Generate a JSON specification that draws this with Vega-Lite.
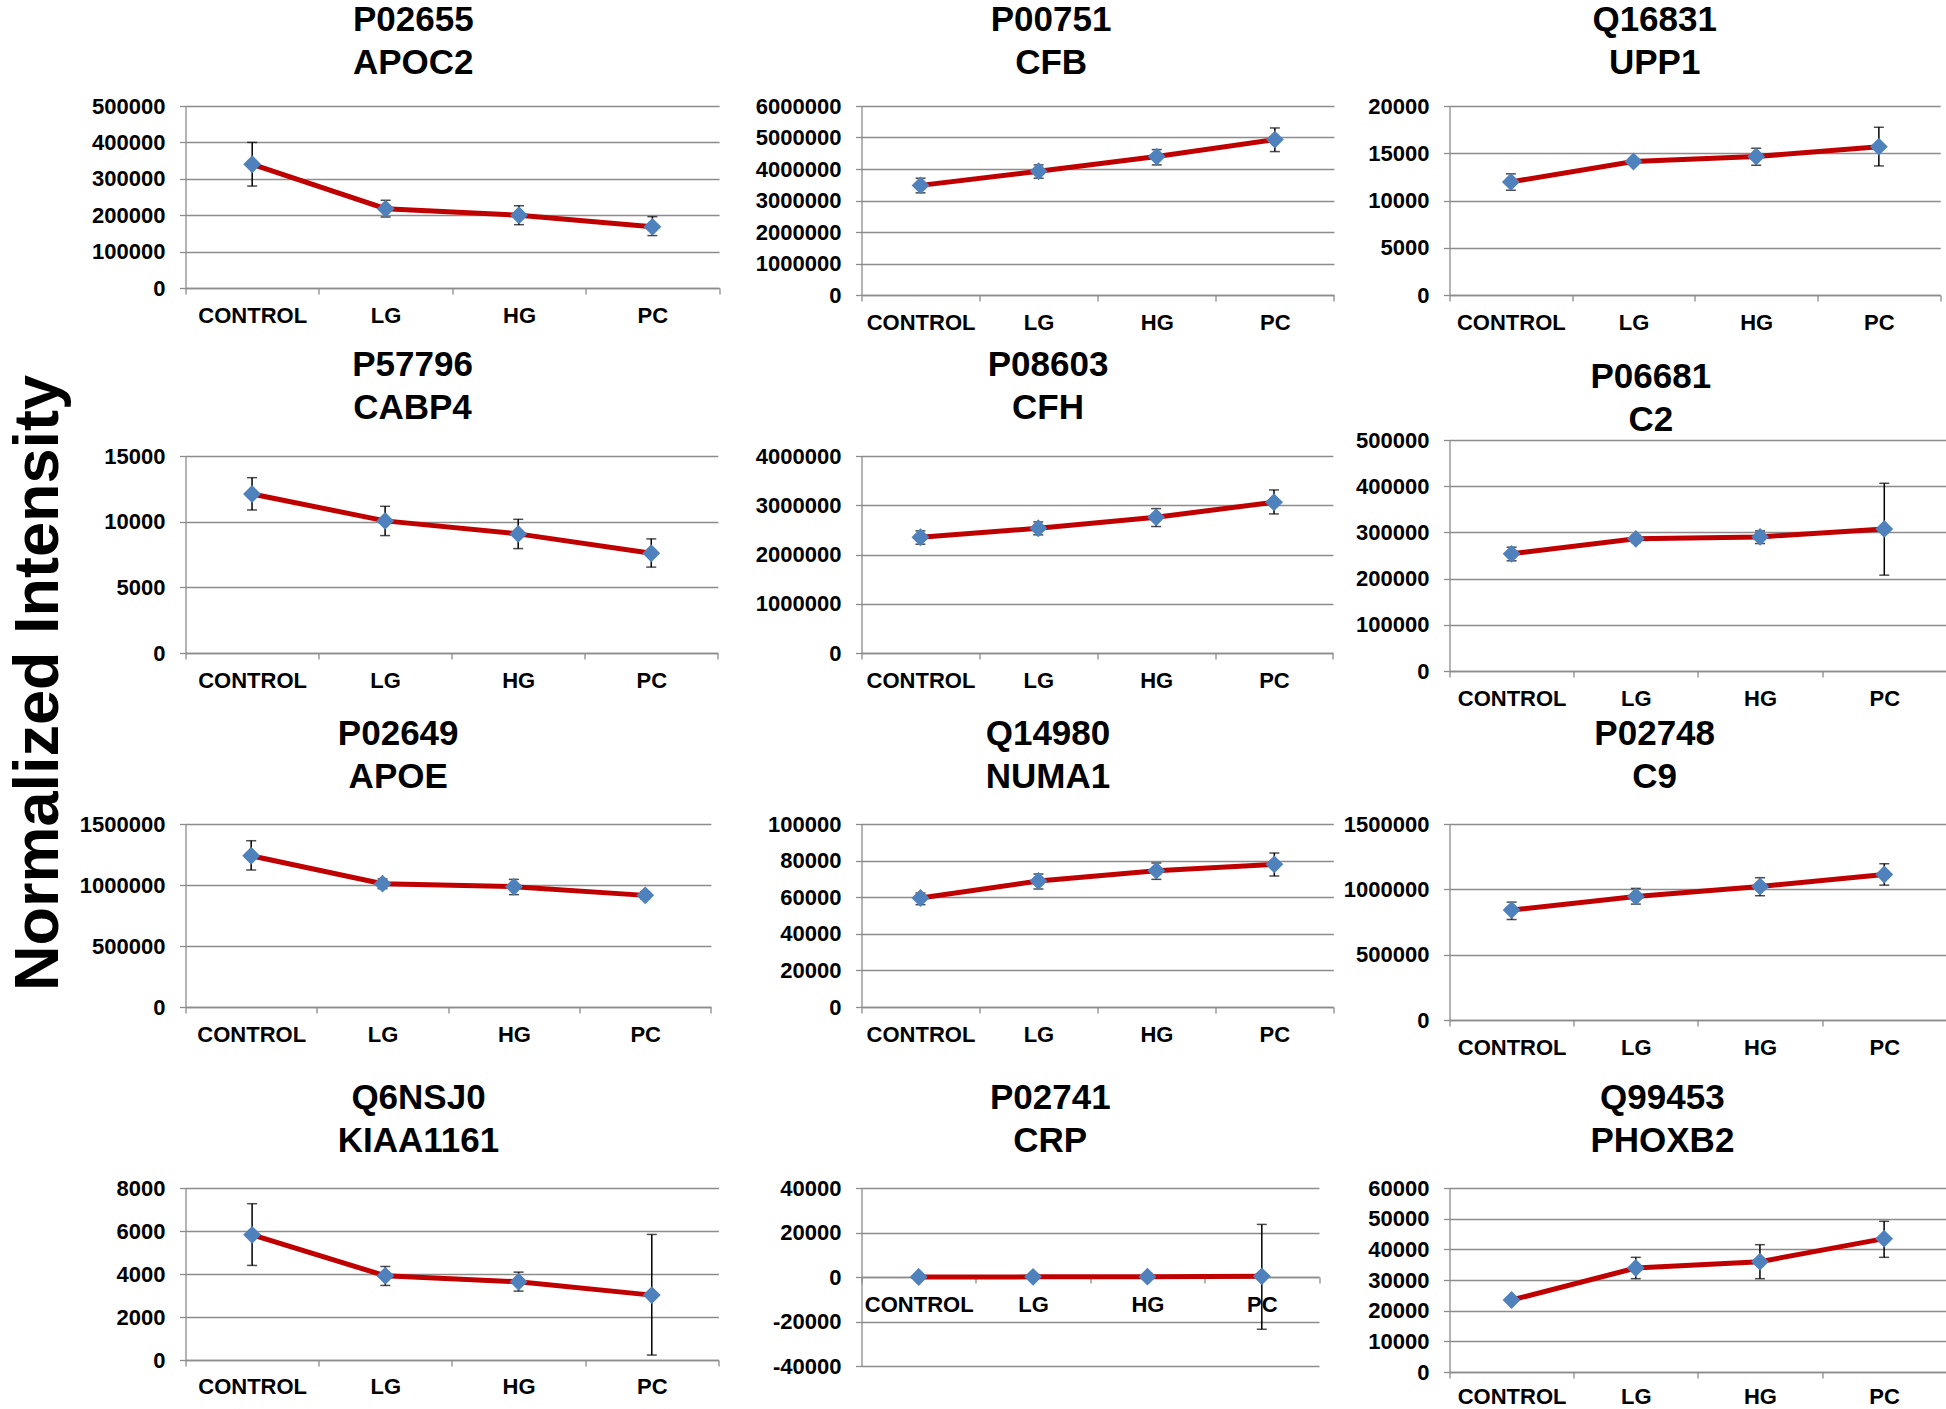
{
  "$schema": "https://vega.github.io/schema/vega-lite/v6.json",
  "padding": {"left": 7.5, "top": 3, "right": 0, "bottom": 0},
  "background": "white",
  "title": {"text": "Normalized Intensity", "orient": "left", "anchor": "middle", "frame": "bounds", "fontSize": 63, "fontWeight": "bold", "font": "Liberation Sans", "color": "#000000", "offset": 3.5, "dx": 22},
  "datasets": {
    "d": [
      {"protein": "APOC2", "group": "CONTROL", "i": 0, "mean": 340000, "lo": 280000, "hi": 400000},
      {"protein": "APOC2", "group": "LG", "i": 1, "mean": 218000, "lo": 195000, "hi": 241000},
      {"protein": "APOC2", "group": "HG", "i": 2, "mean": 200000, "lo": 174000, "hi": 226000},
      {"protein": "APOC2", "group": "PC", "i": 3, "mean": 168000, "lo": 144000, "hi": 196000},
      {"protein": "CFB", "group": "CONTROL", "i": 0, "mean": 3480000, "lo": 3243000, "hi": 3708000},
      {"protein": "CFB", "group": "LG", "i": 1, "mean": 3930000, "lo": 3708000, "hi": 4130000},
      {"protein": "CFB", "group": "HG", "i": 2, "mean": 4394000, "lo": 4130000, "hi": 4616000},
      {"protein": "CFB", "group": "PC", "i": 3, "mean": 4933000, "lo": 4553000, "hi": 5303000},
      {"protein": "UPP1", "group": "CONTROL", "i": 0, "mean": 11970, "lo": 11090, "hi": 12820},
      {"protein": "UPP1", "group": "LG", "i": 1, "mean": 14120, "lo": 13800, "hi": 14450},
      {"protein": "UPP1", "group": "HG", "i": 2, "mean": 14650, "lo": 13730, "hi": 15530},
      {"protein": "UPP1", "group": "PC", "i": 3, "mean": 15700, "lo": 13660, "hi": 17750},
      {"protein": "CABP4", "group": "CONTROL", "i": 0, "mean": 12110, "lo": 10890, "hi": 13350},
      {"protein": "CABP4", "group": "LG", "i": 1, "mean": 10060, "lo": 8940, "hi": 11170},
      {"protein": "CABP4", "group": "HG", "i": 2, "mean": 9070, "lo": 7950, "hi": 10180},
      {"protein": "CABP4", "group": "PC", "i": 3, "mean": 7600, "lo": 6540, "hi": 8690},
      {"protein": "CFH", "group": "CONTROL", "i": 0, "mean": 2351000, "lo": 2209000, "hi": 2480000},
      {"protein": "CFH", "group": "LG", "i": 1, "mean": 2534000, "lo": 2399000, "hi": 2662000},
      {"protein": "CFH", "group": "HG", "i": 2, "mean": 2757000, "lo": 2568000, "hi": 2932000},
      {"protein": "CFH", "group": "PC", "i": 3, "mean": 3061000, "lo": 2824000, "hi": 3311000},
      {"protein": "C2", "group": "CONTROL", "i": 0, "mean": 253600, "lo": 238500, "hi": 268000},
      {"protein": "C2", "group": "LG", "i": 1, "mean": 286000, "lo": 278000, "hi": 294000},
      {"protein": "C2", "group": "HG", "i": 2, "mean": 290300, "lo": 275900, "hi": 303300},
      {"protein": "C2", "group": "PC", "i": 3, "mean": 307600, "lo": 207500, "hi": 406300},
      {"protein": "APOE", "group": "CONTROL", "i": 0, "mean": 1240000, "lo": 1123000, "hi": 1363000},
      {"protein": "APOE", "group": "LG", "i": 1, "mean": 1011000, "lo": 970000, "hi": 1050000},
      {"protein": "APOE", "group": "HG", "i": 2, "mean": 986000, "lo": 921000, "hi": 1046000},
      {"protein": "APOE", "group": "PC", "i": 3, "mean": 915000, "lo": 885000, "hi": 945000},
      {"protein": "NUMA1", "group": "CONTROL", "i": 0, "mean": 59560, "lo": 55920, "hi": 62300},
      {"protein": "NUMA1", "group": "LG", "i": 1, "mean": 68850, "lo": 64480, "hi": 72680},
      {"protein": "NUMA1", "group": "HG", "i": 2, "mean": 74500, "lo": 69760, "hi": 78690},
      {"protein": "NUMA1", "group": "PC", "i": 3, "mean": 77960, "lo": 71580, "hi": 84150},
      {"protein": "C9", "group": "CONTROL", "i": 0, "mean": 841000, "lo": 769000, "hi": 902000},
      {"protein": "C9", "group": "LG", "i": 1, "mean": 945600, "lo": 887000, "hi": 1007000},
      {"protein": "C9", "group": "HG", "i": 2, "mean": 1022000, "lo": 951000, "hi": 1089000},
      {"protein": "C9", "group": "PC", "i": 3, "mean": 1114000, "lo": 1032000, "hi": 1196000},
      {"protein": "KIAA1161", "group": "CONTROL", "i": 0, "mean": 5820, "lo": 4400, "hi": 7270},
      {"protein": "KIAA1161", "group": "LG", "i": 1, "mean": 3916, "lo": 3467, "hi": 4350},
      {"protein": "KIAA1161", "group": "HG", "i": 2, "mean": 3638, "lo": 3204, "hi": 4087},
      {"protein": "KIAA1161", "group": "PC", "i": 3, "mean": 3018, "lo": 230, "hi": 5840},
      {"protein": "CRP", "group": "CONTROL", "i": 0, "mean": 30, "lo": 0, "hi": 60},
      {"protein": "CRP", "group": "LG", "i": 1, "mean": 60, "lo": 30, "hi": 90},
      {"protein": "CRP", "group": "HG", "i": 2, "mean": 150, "lo": 120, "hi": 180},
      {"protein": "CRP", "group": "PC", "i": 3, "mean": 300, "lo": -23490, "hi": 23640},
      {"protein": "PHOXB2", "group": "CONTROL", "i": 0, "mean": 23480, "lo": 22700, "hi": 24300},
      {"protein": "PHOXB2", "group": "LG", "i": 1, "mean": 33910, "lo": 30430, "hi": 37390},
      {"protein": "PHOXB2", "group": "HG", "i": 2, "mean": 35980, "lo": 30430, "hi": 41520},
      {"protein": "PHOXB2", "group": "PC", "i": 3, "mean": 43480, "lo": 37390, "hi": 49130}
    ]
  },
  "spacing": 0,
  "hconcat": [
    {
      "spacing": 0,
      "vconcat": [
        {
          "title": {"text": ["P02655", "APOC2"], "offset": 14, "dx": -39},
          "width": 533.6, "height": 182,
          "data": {"name": "d"},
          "transform": [{"filter": "datum.protein === 'APOC2'"}],
          "encoding": {"x": {"field": "group", "type": "nominal", "bandPosition": 0.5, "scale": {"type": "band", "domain": ["CONTROL", "LG", "HG", "PC"], "paddingInner": 0, "paddingOuter": 0}, "axis": {"title": null, "minExtent": 59.15}}},
          "layer": [
            {"mark": {"type": "line", "color": "#C00000", "strokeWidth": 5}, "encoding": {"y": {"field": "mean", "type": "quantitative", "scale": {"domain": [0, 500000], "nice": false, "zero": false}, "axis": {"title": null, "values": [0, 100000, 200000, 300000, 400000, 500000], "minExtent": 111, "maxExtent": 111}}, "order": {"field": "i"}}},
            {"mark": {"type": "rule", "color": "#000000", "strokeWidth": 1.5}, "encoding": {"y": {"field": "lo", "type": "quantitative", "scale": {"domain": [0, 500000], "nice": false, "zero": false}, "axis": {"title": null, "values": [0, 100000, 200000, 300000, 400000, 500000], "minExtent": 111, "maxExtent": 111}}, "y2": {"field": "hi"}}},
            {"mark": {"type": "tick", "color": "#000000", "size": 10, "thickness": 1.5}, "encoding": {"y": {"field": "lo", "type": "quantitative", "scale": {"domain": [0, 500000], "nice": false, "zero": false}, "axis": {"title": null, "values": [0, 100000, 200000, 300000, 400000, 500000], "minExtent": 111, "maxExtent": 111}}}},
            {"mark": {"type": "tick", "color": "#000000", "size": 10, "thickness": 1.5}, "encoding": {"y": {"field": "hi", "type": "quantitative", "scale": {"domain": [0, 500000], "nice": false, "zero": false}, "axis": {"title": null, "values": [0, 100000, 200000, 300000, 400000, 500000], "minExtent": 111, "maxExtent": 111}}}},
            {"mark": {"type": "point", "shape": "diamond", "filled": true, "size": 320, "color": "#4F81BD", "opacity": 1}, "encoding": {"y": {"field": "mean", "type": "quantitative", "scale": {"domain": [0, 500000], "nice": false, "zero": false}, "axis": {"title": null, "values": [0, 100000, 200000, 300000, 400000, 500000], "minExtent": 111, "maxExtent": 111}}}}
          ]
        },
        {
          "title": {"text": ["P57796", "CABP4"], "offset": 18.85, "dx": -39.15},
          "width": 532.3, "height": 197,
          "data": {"name": "d"},
          "transform": [{"filter": "datum.protein === 'CABP4'"}],
          "encoding": {"x": {"field": "group", "type": "nominal", "bandPosition": 0.5, "scale": {"type": "band", "domain": ["CONTROL", "LG", "HG", "PC"], "paddingInner": 0, "paddingOuter": 0}, "axis": {"title": null, "minExtent": 62.35}}},
          "layer": [
            {"mark": {"type": "line", "color": "#C00000", "strokeWidth": 5}, "encoding": {"y": {"field": "mean", "type": "quantitative", "scale": {"domain": [0, 15000], "nice": false, "zero": false}, "axis": {"title": null, "values": [0, 5000, 10000, 15000], "minExtent": 111, "maxExtent": 111}}, "order": {"field": "i"}}},
            {"mark": {"type": "rule", "color": "#000000", "strokeWidth": 1.5}, "encoding": {"y": {"field": "lo", "type": "quantitative", "scale": {"domain": [0, 15000], "nice": false, "zero": false}, "axis": {"title": null, "values": [0, 5000, 10000, 15000], "minExtent": 111, "maxExtent": 111}}, "y2": {"field": "hi"}}},
            {"mark": {"type": "tick", "color": "#000000", "size": 10, "thickness": 1.5}, "encoding": {"y": {"field": "lo", "type": "quantitative", "scale": {"domain": [0, 15000], "nice": false, "zero": false}, "axis": {"title": null, "values": [0, 5000, 10000, 15000], "minExtent": 111, "maxExtent": 111}}}},
            {"mark": {"type": "tick", "color": "#000000", "size": 10, "thickness": 1.5}, "encoding": {"y": {"field": "hi", "type": "quantitative", "scale": {"domain": [0, 15000], "nice": false, "zero": false}, "axis": {"title": null, "values": [0, 5000, 10000, 15000], "minExtent": 111, "maxExtent": 111}}}},
            {"mark": {"type": "point", "shape": "diamond", "filled": true, "size": 320, "color": "#4F81BD", "opacity": 1}, "encoding": {"y": {"field": "mean", "type": "quantitative", "scale": {"domain": [0, 15000], "nice": false, "zero": false}, "axis": {"title": null, "values": [0, 5000, 10000, 15000], "minExtent": 111, "maxExtent": 111}}}}
          ]
        },
        {
          "title": {"text": ["P02649", "APOE"], "offset": 18.45, "dx": -50},
          "width": 525.4, "height": 183,
          "data": {"name": "d"},
          "transform": [{"filter": "datum.protein === 'APOE'"}],
          "encoding": {"x": {"field": "group", "type": "nominal", "bandPosition": 0.5, "scale": {"type": "band", "domain": ["CONTROL", "LG", "HG", "PC"], "paddingInner": 0, "paddingOuter": 0}, "axis": {"title": null, "minExtent": 72.25}}},
          "layer": [
            {"mark": {"type": "line", "color": "#C00000", "strokeWidth": 5}, "encoding": {"y": {"field": "mean", "type": "quantitative", "scale": {"domain": [0, 1500000], "nice": false, "zero": false}, "axis": {"title": null, "values": [0, 500000, 1000000, 1500000], "minExtent": 111, "maxExtent": 111}}, "order": {"field": "i"}}},
            {"mark": {"type": "rule", "color": "#000000", "strokeWidth": 1.5}, "encoding": {"y": {"field": "lo", "type": "quantitative", "scale": {"domain": [0, 1500000], "nice": false, "zero": false}, "axis": {"title": null, "values": [0, 500000, 1000000, 1500000], "minExtent": 111, "maxExtent": 111}}, "y2": {"field": "hi"}}},
            {"mark": {"type": "tick", "color": "#000000", "size": 10, "thickness": 1.5}, "encoding": {"y": {"field": "lo", "type": "quantitative", "scale": {"domain": [0, 1500000], "nice": false, "zero": false}, "axis": {"title": null, "values": [0, 500000, 1000000, 1500000], "minExtent": 111, "maxExtent": 111}}}},
            {"mark": {"type": "tick", "color": "#000000", "size": 10, "thickness": 1.5}, "encoding": {"y": {"field": "hi", "type": "quantitative", "scale": {"domain": [0, 1500000], "nice": false, "zero": false}, "axis": {"title": null, "values": [0, 500000, 1000000, 1500000], "minExtent": 111, "maxExtent": 111}}}},
            {"mark": {"type": "point", "shape": "diamond", "filled": true, "size": 320, "color": "#4F81BD", "opacity": 1}, "encoding": {"y": {"field": "mean", "type": "quantitative", "scale": {"domain": [0, 1500000], "nice": false, "zero": false}, "axis": {"title": null, "values": [0, 500000, 1000000, 1500000], "minExtent": 111, "maxExtent": 111}}}}
          ]
        },
        {
          "title": {"text": ["Q6NSJ0", "KIAA1161"], "offset": 18.15, "dx": -33.45},
          "width": 532.9, "height": 172,
          "data": {"name": "d"},
          "transform": [{"filter": "datum.protein === 'KIAA1161'"}],
          "encoding": {"x": {"field": "group", "type": "nominal", "bandPosition": 0.5, "scale": {"type": "band", "domain": ["CONTROL", "LG", "HG", "PC"], "paddingInner": 0, "paddingOuter": 0}, "axis": {"title": null, "labelPadding": 10}}},
          "layer": [
            {"mark": {"type": "line", "color": "#C00000", "strokeWidth": 5}, "encoding": {"y": {"field": "mean", "type": "quantitative", "scale": {"domain": [0, 8000], "nice": false, "zero": false}, "axis": {"title": null, "values": [0, 2000, 4000, 6000, 8000], "minExtent": 111, "maxExtent": 111}}, "order": {"field": "i"}}},
            {"mark": {"type": "rule", "color": "#000000", "strokeWidth": 1.5}, "encoding": {"y": {"field": "lo", "type": "quantitative", "scale": {"domain": [0, 8000], "nice": false, "zero": false}, "axis": {"title": null, "values": [0, 2000, 4000, 6000, 8000], "minExtent": 111, "maxExtent": 111}}, "y2": {"field": "hi"}}},
            {"mark": {"type": "tick", "color": "#000000", "size": 10, "thickness": 1.5}, "encoding": {"y": {"field": "lo", "type": "quantitative", "scale": {"domain": [0, 8000], "nice": false, "zero": false}, "axis": {"title": null, "values": [0, 2000, 4000, 6000, 8000], "minExtent": 111, "maxExtent": 111}}}},
            {"mark": {"type": "tick", "color": "#000000", "size": 10, "thickness": 1.5}, "encoding": {"y": {"field": "hi", "type": "quantitative", "scale": {"domain": [0, 8000], "nice": false, "zero": false}, "axis": {"title": null, "values": [0, 2000, 4000, 6000, 8000], "minExtent": 111, "maxExtent": 111}}}},
            {"mark": {"type": "point", "shape": "diamond", "filled": true, "size": 320, "color": "#4F81BD", "opacity": 1}, "encoding": {"y": {"field": "mean", "type": "quantitative", "scale": {"domain": [0, 8000], "nice": false, "zero": false}, "axis": {"title": null, "values": [0, 2000, 4000, 6000, 8000], "minExtent": 111, "maxExtent": 111}}}}
          ]
        }
      ]
    },
    {
      "spacing": 0,
      "vconcat": [
        {
          "title": {"text": ["P00751", "CFB"], "offset": 14, "dx": -46.6},
          "width": 472.4, "height": 189,
          "data": {"name": "d"},
          "transform": [{"filter": "datum.protein === 'CFB'"}],
          "encoding": {"x": {"field": "group", "type": "nominal", "bandPosition": 0.5, "scale": {"type": "band", "domain": ["CONTROL", "LG", "HG", "PC"], "paddingInner": 0, "paddingOuter": 0}, "axis": {"title": null, "minExtent": 52.15}}},
          "layer": [
            {"mark": {"type": "line", "color": "#C00000", "strokeWidth": 5}, "encoding": {"y": {"field": "mean", "type": "quantitative", "scale": {"domain": [0, 6000000], "nice": false, "zero": false}, "axis": {"title": null, "values": [0, 1000000, 2000000, 3000000, 4000000, 5000000, 6000000], "minExtent": 140.4, "maxExtent": 140.4}}, "order": {"field": "i"}}},
            {"mark": {"type": "rule", "color": "#000000", "strokeWidth": 1.5}, "encoding": {"y": {"field": "lo", "type": "quantitative", "scale": {"domain": [0, 6000000], "nice": false, "zero": false}, "axis": {"title": null, "values": [0, 1000000, 2000000, 3000000, 4000000, 5000000, 6000000], "minExtent": 140.4, "maxExtent": 140.4}}, "y2": {"field": "hi"}}},
            {"mark": {"type": "tick", "color": "#000000", "size": 10, "thickness": 1.5}, "encoding": {"y": {"field": "lo", "type": "quantitative", "scale": {"domain": [0, 6000000], "nice": false, "zero": false}, "axis": {"title": null, "values": [0, 1000000, 2000000, 3000000, 4000000, 5000000, 6000000], "minExtent": 140.4, "maxExtent": 140.4}}}},
            {"mark": {"type": "tick", "color": "#000000", "size": 10, "thickness": 1.5}, "encoding": {"y": {"field": "hi", "type": "quantitative", "scale": {"domain": [0, 6000000], "nice": false, "zero": false}, "axis": {"title": null, "values": [0, 1000000, 2000000, 3000000, 4000000, 5000000, 6000000], "minExtent": 140.4, "maxExtent": 140.4}}}},
            {"mark": {"type": "point", "shape": "diamond", "filled": true, "size": 320, "color": "#4F81BD", "opacity": 1}, "encoding": {"y": {"field": "mean", "type": "quantitative", "scale": {"domain": [0, 6000000], "nice": false, "zero": false}, "axis": {"title": null, "values": [0, 1000000, 2000000, 3000000, 4000000, 5000000, 6000000], "minExtent": 140.4, "maxExtent": 140.4}}}}
          ]
        },
        {
          "title": {"text": ["P08603", "CFH"], "offset": 18.85, "dx": -49.2},
          "width": 471.4, "height": 197,
          "data": {"name": "d"},
          "transform": [{"filter": "datum.protein === 'CFH'"}],
          "encoding": {"x": {"field": "group", "type": "nominal", "bandPosition": 0.5, "scale": {"type": "band", "domain": ["CONTROL", "LG", "HG", "PC"], "paddingInner": 0, "paddingOuter": 0}, "axis": {"title": null, "minExtent": 62.35}}},
          "layer": [
            {"mark": {"type": "line", "color": "#C00000", "strokeWidth": 5}, "encoding": {"y": {"field": "mean", "type": "quantitative", "scale": {"domain": [0, 4000000], "nice": false, "zero": false}, "axis": {"title": null, "values": [0, 1000000, 2000000, 3000000, 4000000], "minExtent": 140.4, "maxExtent": 140.4}}, "order": {"field": "i"}}},
            {"mark": {"type": "rule", "color": "#000000", "strokeWidth": 1.5}, "encoding": {"y": {"field": "lo", "type": "quantitative", "scale": {"domain": [0, 4000000], "nice": false, "zero": false}, "axis": {"title": null, "values": [0, 1000000, 2000000, 3000000, 4000000], "minExtent": 140.4, "maxExtent": 140.4}}, "y2": {"field": "hi"}}},
            {"mark": {"type": "tick", "color": "#000000", "size": 10, "thickness": 1.5}, "encoding": {"y": {"field": "lo", "type": "quantitative", "scale": {"domain": [0, 4000000], "nice": false, "zero": false}, "axis": {"title": null, "values": [0, 1000000, 2000000, 3000000, 4000000], "minExtent": 140.4, "maxExtent": 140.4}}}},
            {"mark": {"type": "tick", "color": "#000000", "size": 10, "thickness": 1.5}, "encoding": {"y": {"field": "hi", "type": "quantitative", "scale": {"domain": [0, 4000000], "nice": false, "zero": false}, "axis": {"title": null, "values": [0, 1000000, 2000000, 3000000, 4000000], "minExtent": 140.4, "maxExtent": 140.4}}}},
            {"mark": {"type": "point", "shape": "diamond", "filled": true, "size": 320, "color": "#4F81BD", "opacity": 1}, "encoding": {"y": {"field": "mean", "type": "quantitative", "scale": {"domain": [0, 4000000], "nice": false, "zero": false}, "axis": {"title": null, "values": [0, 1000000, 2000000, 3000000, 4000000], "minExtent": 140.4, "maxExtent": 140.4}}}}
          ]
        },
        {
          "title": {"text": ["Q14980", "NUMA1"], "offset": 18.45, "dx": -49.4},
          "width": 471.8, "height": 183,
          "data": {"name": "d"},
          "transform": [{"filter": "datum.protein === 'NUMA1'"}],
          "encoding": {"x": {"field": "group", "type": "nominal", "bandPosition": 0.5, "scale": {"type": "band", "domain": ["CONTROL", "LG", "HG", "PC"], "paddingInner": 0, "paddingOuter": 0}, "axis": {"title": null, "minExtent": 72.25}}},
          "layer": [
            {"mark": {"type": "line", "color": "#C00000", "strokeWidth": 5}, "encoding": {"y": {"field": "mean", "type": "quantitative", "scale": {"domain": [0, 100000], "nice": false, "zero": false}, "axis": {"title": null, "values": [0, 20000, 40000, 60000, 80000, 100000], "minExtent": 140.4, "maxExtent": 140.4}}, "order": {"field": "i"}}},
            {"mark": {"type": "rule", "color": "#000000", "strokeWidth": 1.5}, "encoding": {"y": {"field": "lo", "type": "quantitative", "scale": {"domain": [0, 100000], "nice": false, "zero": false}, "axis": {"title": null, "values": [0, 20000, 40000, 60000, 80000, 100000], "minExtent": 140.4, "maxExtent": 140.4}}, "y2": {"field": "hi"}}},
            {"mark": {"type": "tick", "color": "#000000", "size": 10, "thickness": 1.5}, "encoding": {"y": {"field": "lo", "type": "quantitative", "scale": {"domain": [0, 100000], "nice": false, "zero": false}, "axis": {"title": null, "values": [0, 20000, 40000, 60000, 80000, 100000], "minExtent": 140.4, "maxExtent": 140.4}}}},
            {"mark": {"type": "tick", "color": "#000000", "size": 10, "thickness": 1.5}, "encoding": {"y": {"field": "hi", "type": "quantitative", "scale": {"domain": [0, 100000], "nice": false, "zero": false}, "axis": {"title": null, "values": [0, 20000, 40000, 60000, 80000, 100000], "minExtent": 140.4, "maxExtent": 140.4}}}},
            {"mark": {"type": "point", "shape": "diamond", "filled": true, "size": 320, "color": "#4F81BD", "opacity": 1}, "encoding": {"y": {"field": "mean", "type": "quantitative", "scale": {"domain": [0, 100000], "nice": false, "zero": false}, "axis": {"title": null, "values": [0, 20000, 40000, 60000, 80000, 100000], "minExtent": 140.4, "maxExtent": 140.4}}}}
          ]
        },
        {
          "title": {"text": ["P02741", "CRP"], "offset": 18.15, "dx": -40},
          "width": 457.5, "height": 178,
          "data": {"name": "d"},
          "transform": [{"filter": "datum.protein === 'CRP'"}],
          "encoding": {"x": {"field": "group", "type": "nominal", "bandPosition": 0.5, "scale": {"type": "band", "domain": ["CONTROL", "LG", "HG", "PC"], "paddingInner": 0, "paddingOuter": 0}, "axis": {"title": null, "offset": -89}}},
          "layer": [
            {"mark": {"type": "line", "color": "#C00000", "strokeWidth": 5}, "encoding": {"y": {"field": "mean", "type": "quantitative", "scale": {"domain": [-40000, 40000], "nice": false, "zero": false}, "axis": {"title": null, "values": [-40000, -20000, 0, 20000, 40000], "labelExpr": "datum.value < 0 ? '-' + format(-datum.value, 'd') : format(datum.value, 'd')", "minExtent": 140.4, "maxExtent": 140.4}}, "order": {"field": "i"}}},
            {"mark": {"type": "rule", "color": "#000000", "strokeWidth": 1.5}, "encoding": {"y": {"field": "lo", "type": "quantitative", "scale": {"domain": [-40000, 40000], "nice": false, "zero": false}, "axis": {"title": null, "values": [-40000, -20000, 0, 20000, 40000], "labelExpr": "datum.value < 0 ? '-' + format(-datum.value, 'd') : format(datum.value, 'd')", "minExtent": 140.4, "maxExtent": 140.4}}, "y2": {"field": "hi"}}},
            {"mark": {"type": "tick", "color": "#000000", "size": 10, "thickness": 1.5}, "encoding": {"y": {"field": "lo", "type": "quantitative", "scale": {"domain": [-40000, 40000], "nice": false, "zero": false}, "axis": {"title": null, "values": [-40000, -20000, 0, 20000, 40000], "labelExpr": "datum.value < 0 ? '-' + format(-datum.value, 'd') : format(datum.value, 'd')", "minExtent": 140.4, "maxExtent": 140.4}}}},
            {"mark": {"type": "tick", "color": "#000000", "size": 10, "thickness": 1.5}, "encoding": {"y": {"field": "hi", "type": "quantitative", "scale": {"domain": [-40000, 40000], "nice": false, "zero": false}, "axis": {"title": null, "values": [-40000, -20000, 0, 20000, 40000], "labelExpr": "datum.value < 0 ? '-' + format(-datum.value, 'd') : format(datum.value, 'd')", "minExtent": 140.4, "maxExtent": 140.4}}}},
            {"mark": {"type": "point", "shape": "diamond", "filled": true, "size": 320, "color": "#4F81BD", "opacity": 1}, "encoding": {"y": {"field": "mean", "type": "quantitative", "scale": {"domain": [-40000, 40000], "nice": false, "zero": false}, "axis": {"title": null, "values": [-40000, -20000, 0, 20000, 40000], "labelExpr": "datum.value < 0 ? '-' + format(-datum.value, 'd') : format(datum.value, 'd')", "minExtent": 140.4, "maxExtent": 140.4}}}}
          ]
        }
      ]
    },
    {
      "spacing": 0,
      "vconcat": [
        {
          "title": {"text": ["Q16831", "UPP1"], "offset": 14, "dx": -40.15},
          "width": 490.7, "height": 189,
          "data": {"name": "d"},
          "transform": [{"filter": "datum.protein === 'UPP1'"}],
          "encoding": {"x": {"field": "group", "type": "nominal", "bandPosition": 0.5, "scale": {"type": "band", "domain": ["CONTROL", "LG", "HG", "PC"], "paddingInner": 0, "paddingOuter": 0}, "axis": {"title": null, "minExtent": 63.45}}},
          "layer": [
            {"mark": {"type": "line", "color": "#C00000", "strokeWidth": 5}, "encoding": {"y": {"field": "mean", "type": "quantitative", "scale": {"domain": [0, 20000], "nice": false, "zero": false}, "axis": {"title": null, "values": [0, 5000, 10000, 15000, 20000], "minExtent": 114.6, "maxExtent": 114.6}}, "order": {"field": "i"}}},
            {"mark": {"type": "rule", "color": "#000000", "strokeWidth": 1.5}, "encoding": {"y": {"field": "lo", "type": "quantitative", "scale": {"domain": [0, 20000], "nice": false, "zero": false}, "axis": {"title": null, "values": [0, 5000, 10000, 15000, 20000], "minExtent": 114.6, "maxExtent": 114.6}}, "y2": {"field": "hi"}}},
            {"mark": {"type": "tick", "color": "#000000", "size": 10, "thickness": 1.5}, "encoding": {"y": {"field": "lo", "type": "quantitative", "scale": {"domain": [0, 20000], "nice": false, "zero": false}, "axis": {"title": null, "values": [0, 5000, 10000, 15000, 20000], "minExtent": 114.6, "maxExtent": 114.6}}}},
            {"mark": {"type": "tick", "color": "#000000", "size": 10, "thickness": 1.5}, "encoding": {"y": {"field": "hi", "type": "quantitative", "scale": {"domain": [0, 20000], "nice": false, "zero": false}, "axis": {"title": null, "values": [0, 5000, 10000, 15000, 20000], "minExtent": 114.6, "maxExtent": 114.6}}}},
            {"mark": {"type": "point", "shape": "diamond", "filled": true, "size": 320, "color": "#4F81BD", "opacity": 1}, "encoding": {"y": {"field": "mean", "type": "quantitative", "scale": {"domain": [0, 20000], "nice": false, "zero": false}, "axis": {"title": null, "values": [0, 5000, 10000, 15000, 20000], "minExtent": 114.6, "maxExtent": 114.6}}}}
          ]
        },
        {
          "title": {"text": ["P06681", "C2"], "offset": -8.85, "dx": -47.15},
          "width": 496.9, "height": 231,
          "data": {"name": "d"},
          "transform": [{"filter": "datum.protein === 'C2'"}],
          "encoding": {"x": {"field": "group", "type": "nominal", "bandPosition": 0.5, "scale": {"type": "band", "domain": ["CONTROL", "LG", "HG", "PC"], "paddingInner": 0, "paddingOuter": 0}, "axis": {"title": null, "minExtent": 44.75}}},
          "layer": [
            {"mark": {"type": "line", "color": "#C00000", "strokeWidth": 5}, "encoding": {"y": {"field": "mean", "type": "quantitative", "scale": {"domain": [0, 500000], "nice": false, "zero": false}, "axis": {"title": null, "values": [0, 100000, 200000, 300000, 400000, 500000], "minExtent": 114.6, "maxExtent": 114.6}}, "order": {"field": "i"}}},
            {"mark": {"type": "rule", "color": "#000000", "strokeWidth": 1.5}, "encoding": {"y": {"field": "lo", "type": "quantitative", "scale": {"domain": [0, 500000], "nice": false, "zero": false}, "axis": {"title": null, "values": [0, 100000, 200000, 300000, 400000, 500000], "minExtent": 114.6, "maxExtent": 114.6}}, "y2": {"field": "hi"}}},
            {"mark": {"type": "tick", "color": "#000000", "size": 10, "thickness": 1.5}, "encoding": {"y": {"field": "lo", "type": "quantitative", "scale": {"domain": [0, 500000], "nice": false, "zero": false}, "axis": {"title": null, "values": [0, 100000, 200000, 300000, 400000, 500000], "minExtent": 114.6, "maxExtent": 114.6}}}},
            {"mark": {"type": "tick", "color": "#000000", "size": 10, "thickness": 1.5}, "encoding": {"y": {"field": "hi", "type": "quantitative", "scale": {"domain": [0, 500000], "nice": false, "zero": false}, "axis": {"title": null, "values": [0, 100000, 200000, 300000, 400000, 500000], "minExtent": 114.6, "maxExtent": 114.6}}}},
            {"mark": {"type": "point", "shape": "diamond", "filled": true, "size": 320, "color": "#4F81BD", "opacity": 1}, "encoding": {"y": {"field": "mean", "type": "quantitative", "scale": {"domain": [0, 500000], "nice": false, "zero": false}, "axis": {"title": null, "values": [0, 100000, 200000, 300000, 400000, 500000], "minExtent": 114.6, "maxExtent": 114.6}}}}
          ]
        },
        {
          "title": {"text": ["P02748", "C9"], "offset": 18.45, "dx": -43.25},
          "width": 496.9, "height": 196,
          "data": {"name": "d"},
          "transform": [{"filter": "datum.protein === 'C9'"}],
          "encoding": {"x": {"field": "group", "type": "nominal", "bandPosition": 0.5, "scale": {"type": "band", "domain": ["CONTROL", "LG", "HG", "PC"], "paddingInner": 0, "paddingOuter": 0}, "axis": {"title": null, "minExtent": 59.25}}},
          "layer": [
            {"mark": {"type": "line", "color": "#C00000", "strokeWidth": 5}, "encoding": {"y": {"field": "mean", "type": "quantitative", "scale": {"domain": [0, 1500000], "nice": false, "zero": false}, "axis": {"title": null, "values": [0, 500000, 1000000, 1500000], "minExtent": 114.6, "maxExtent": 114.6}}, "order": {"field": "i"}}},
            {"mark": {"type": "rule", "color": "#000000", "strokeWidth": 1.5}, "encoding": {"y": {"field": "lo", "type": "quantitative", "scale": {"domain": [0, 1500000], "nice": false, "zero": false}, "axis": {"title": null, "values": [0, 500000, 1000000, 1500000], "minExtent": 114.6, "maxExtent": 114.6}}, "y2": {"field": "hi"}}},
            {"mark": {"type": "tick", "color": "#000000", "size": 10, "thickness": 1.5}, "encoding": {"y": {"field": "lo", "type": "quantitative", "scale": {"domain": [0, 1500000], "nice": false, "zero": false}, "axis": {"title": null, "values": [0, 500000, 1000000, 1500000], "minExtent": 114.6, "maxExtent": 114.6}}}},
            {"mark": {"type": "tick", "color": "#000000", "size": 10, "thickness": 1.5}, "encoding": {"y": {"field": "hi", "type": "quantitative", "scale": {"domain": [0, 1500000], "nice": false, "zero": false}, "axis": {"title": null, "values": [0, 500000, 1000000, 1500000], "minExtent": 114.6, "maxExtent": 114.6}}}},
            {"mark": {"type": "point", "shape": "diamond", "filled": true, "size": 320, "color": "#4F81BD", "opacity": 1}, "encoding": {"y": {"field": "mean", "type": "quantitative", "scale": {"domain": [0, 1500000], "nice": false, "zero": false}, "axis": {"title": null, "values": [0, 500000, 1000000, 1500000], "minExtent": 114.6, "maxExtent": 114.6}}}}
          ]
        },
        {
          "title": {"text": ["Q99453", "PHOXB2"], "offset": 18.15, "dx": -35.45},
          "width": 496.7, "height": 184,
          "data": {"name": "d"},
          "transform": [{"filter": "datum.protein === 'PHOXB2'"}],
          "encoding": {"x": {"field": "group", "type": "nominal", "bandPosition": 0.5, "scale": {"type": "band", "domain": ["CONTROL", "LG", "HG", "PC"], "paddingInner": 0, "paddingOuter": 0}, "axis": {"title": null, "labelPadding": 8}}},
          "layer": [
            {"mark": {"type": "line", "color": "#C00000", "strokeWidth": 5}, "encoding": {"y": {"field": "mean", "type": "quantitative", "scale": {"domain": [0, 60000], "nice": false, "zero": false}, "axis": {"title": null, "values": [0, 10000, 20000, 30000, 40000, 50000, 60000], "minExtent": 114.6, "maxExtent": 114.6}}, "order": {"field": "i"}}},
            {"mark": {"type": "rule", "color": "#000000", "strokeWidth": 1.5}, "encoding": {"y": {"field": "lo", "type": "quantitative", "scale": {"domain": [0, 60000], "nice": false, "zero": false}, "axis": {"title": null, "values": [0, 10000, 20000, 30000, 40000, 50000, 60000], "minExtent": 114.6, "maxExtent": 114.6}}, "y2": {"field": "hi"}}},
            {"mark": {"type": "tick", "color": "#000000", "size": 10, "thickness": 1.5}, "encoding": {"y": {"field": "lo", "type": "quantitative", "scale": {"domain": [0, 60000], "nice": false, "zero": false}, "axis": {"title": null, "values": [0, 10000, 20000, 30000, 40000, 50000, 60000], "minExtent": 114.6, "maxExtent": 114.6}}}},
            {"mark": {"type": "tick", "color": "#000000", "size": 10, "thickness": 1.5}, "encoding": {"y": {"field": "hi", "type": "quantitative", "scale": {"domain": [0, 60000], "nice": false, "zero": false}, "axis": {"title": null, "values": [0, 10000, 20000, 30000, 40000, 50000, 60000], "minExtent": 114.6, "maxExtent": 114.6}}}},
            {"mark": {"type": "point", "shape": "diamond", "filled": true, "size": 320, "color": "#4F81BD", "opacity": 1}, "encoding": {"y": {"field": "mean", "type": "quantitative", "scale": {"domain": [0, 60000], "nice": false, "zero": false}, "axis": {"title": null, "values": [0, 10000, 20000, 30000, 40000, 50000, 60000], "minExtent": 114.6, "maxExtent": 114.6}}}}
          ]
        }
      ]
    }
  ],
  "config": {
    "view": {"stroke": null},
    "font": "Liberation Sans",
    "title": {"font": "Liberation Sans", "fontSize": 35, "fontWeight": "bold", "color": "#000000", "lineHeight": 43, "anchor": "middle", "frame": "group"},
    "axis": {"labelFont": "Liberation Sans", "labelFontWeight": "bold", "labelColor": "#000000", "domainColor": "#8c8c8c", "tickColor": "#8c8c8c", "gridColor": "#8c8c8c", "domainWidth": 1.3, "tickWidth": 1.3, "gridWidth": 1.3, "tickSize": 6},
    "axisX": {"labelFontSize": 22, "labelPadding": 11.5, "labelAngle": 0, "grid": false, "tickBand": "extent"},
    "axisY": {"labelFontSize": 22, "labelPadding": 14.5, "grid": true, "format": "d"}
  }
}
